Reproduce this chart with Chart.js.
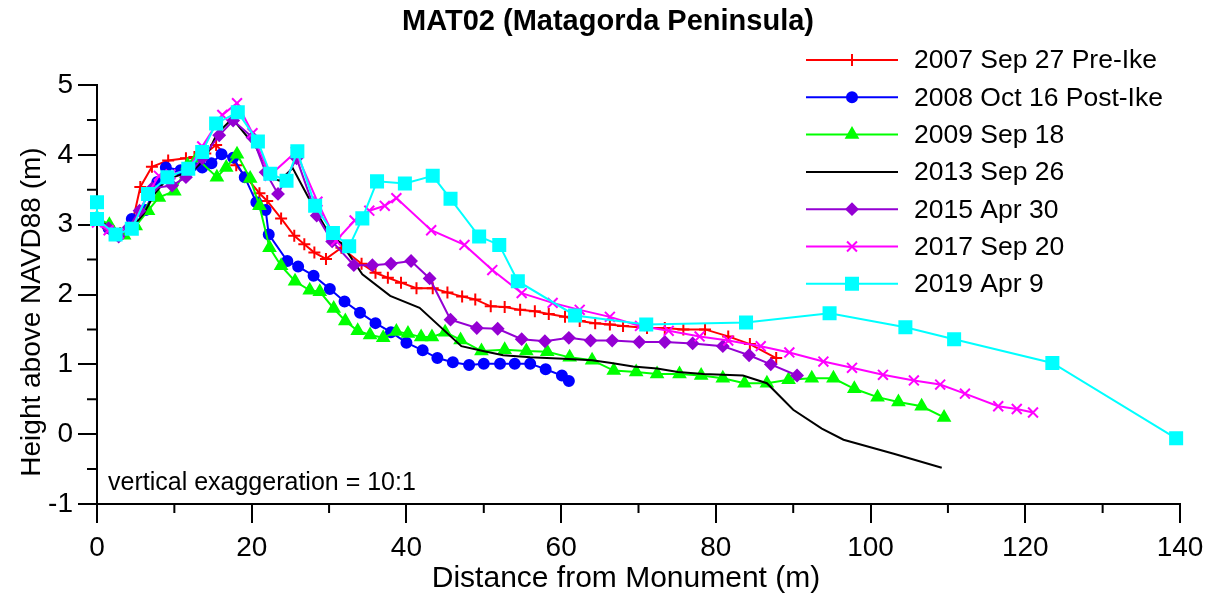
<!DOCTYPE html>
<html>
<head>
<meta charset="utf-8">
<title>MAT02 (Matagorda Peninsula)</title>
<script src="https://cdn.jsdelivr.net/npm/chart.js@4.4.1/dist/chart.umd.min.js"></script>
<style>
  html, body { margin: 0; padding: 0; background: #fff; }
  #wrap { width: 1215px; height: 598px; }
</style>
</head>
<body>
<div id="wrap"><canvas id="perfil" width="1215" height="598"></canvas></div>
<script>
// distancia (m) / altura (m) de cada levantamiento
const dist2007 = [0, 1.5, 3, 4.4, 5.6, 7.1, 9.2, 11.5, 12.6, 14, 15.4, 18, 21, 22, 23.8, 25.5, 26.8, 28.1, 29.6, 31.6, 34.2, 36, 37.6, 39.3, 41.3, 43.4, 45.3, 47.2, 48.9, 50.9, 52.7, 54.7, 56.6, 58.4, 60.5, 62.4, 64.4, 66.3, 68, 71.1, 73.4, 75.8, 78.6, 81.6, 84.4, 87.8];
const elev2007 = [3.07, 2.98, 2.88, 2.94, 3.54, 3.83, 3.92, 3.95, 3.97, 4.02, 4.14, 3.85, 3.45, 3.34, 3.09, 2.84, 2.72, 2.60, 2.51, 2.67, 2.44, 2.31, 2.24, 2.17, 2.09, 2.09, 2.03, 1.97, 1.93, 1.83, 1.82, 1.78, 1.76, 1.72, 1.68, 1.62, 1.59, 1.57, 1.55, 1.52, 1.52, 1.50, 1.50, 1.40, 1.29, 1.09];

const dist2008 = [0, 1.5, 3, 4.5, 6.3, 7.8, 8.9, 10.8, 12.3, 13.6, 14.8, 16.1, 17.6, 19.1, 20.6, 21.8, 22.2, 24.6, 26, 28, 30.1, 32, 34, 36, 38, 40, 42.1, 44, 46, 48.1, 50, 52.1, 54, 56, 58, 60.1, 61];
const elev2008 = [3.08, 2.95, 2.86, 3.08, 3.21, 3.61, 3.82, 3.78, 3.84, 3.82, 3.88, 4.01, 3.96, 3.68, 3.32, 3.21, 2.86, 2.48, 2.40, 2.27, 2.08, 1.90, 1.74, 1.59, 1.46, 1.31, 1.20, 1.09, 1.03, 0.99, 1.01, 1.01, 1.01, 1.01, 0.93, 0.84, 0.76];

const dist2009 = [0, 1.6, 3.5, 5, 6.6, 8, 10, 11.7, 12.9, 15.5, 16.7, 18.1, 19.8, 21, 22.3, 23.8, 25.6, 27.5, 28.8, 30.6, 32.1, 33.7, 35.3, 37, 38.7, 40.2, 41.9, 43.3, 45, 47, 49.7, 52.7, 55.5, 58.2, 61.1, 64, 66.8, 69.7, 72.4, 75.3, 78.1, 80.9, 83.7, 86.6, 89.4, 92.4, 95.2, 97.9, 100.9, 103.6, 106.6, 109.5];
const elev2009 = [3.10, 3.00, 2.85, 2.98, 3.20, 3.39, 3.48, 3.85, 3.95, 3.68, 3.82, 4.01, 3.66, 3.27, 2.67, 2.41, 2.19, 2.06, 2.04, 1.80, 1.62, 1.48, 1.42, 1.38, 1.47, 1.44, 1.39, 1.39, 1.46, 1.35, 1.19, 1.21, 1.19, 1.18, 1.10, 1.06, 0.91, 0.89, 0.86, 0.86, 0.84, 0.80, 0.73, 0.73, 0.78, 0.80, 0.80, 0.65, 0.53, 0.46, 0.40, 0.24];

const dist2013 = [0, 1.5, 3, 4.5, 6, 7.5, 9, 11, 12.5, 14, 15.5, 17.5, 20.6, 22.7, 23.6, 25.3, 27.9, 30, 31.6, 34.3, 37.9, 41.7, 47.1, 49.9, 52.5, 56, 60.3, 64, 66.5, 69.3, 72.4, 75.1, 78.4, 83.5, 86.6, 90, 93.7, 96.5, 103, 109.2];
const elev2013 = [3.08, 2.97, 2.90, 2.95, 3.15, 3.45, 3.65, 3.72, 3.78, 3.95, 4.30, 4.52, 4.10, 3.66, 3.63, 3.81, 3.27, 2.87, 2.73, 2.29, 1.98, 1.81, 1.26, 1.19, 1.13, 1.10, 1.08, 1.06, 1.02, 0.97, 0.94, 0.89, 0.86, 0.84, 0.73, 0.35, 0.08, -0.08, -0.28, -0.48];

const dist2015 = [0, 1.5, 2.8, 4.1, 5.5, 7.1, 9.7, 11.5, 13.6, 15.8, 17.6, 20.1, 21.8, 23.4, 25.8, 28.4, 30.4, 33.2, 35.6, 38, 40.6, 43, 45.7, 49.1, 51.8, 54.9, 57.9, 61, 63.8, 66.6, 70.1, 73.4, 77, 80.9, 84.3, 87.1, 90.5];
const elev2015 = [3.09, 2.95, 2.83, 2.96, 3.20, 3.52, 3.56, 3.68, 3.95, 4.28, 4.49, 4.25, 3.75, 3.44, 3.95, 3.13, 2.76, 2.42, 2.42, 2.44, 2.48, 2.23, 1.64, 1.52, 1.51, 1.36, 1.33, 1.38, 1.34, 1.34, 1.32, 1.32, 1.30, 1.26, 1.13, 1.00, 0.84];

const dist2017 = [0, 1.5, 2.8, 4.5, 6.5, 8, 9.5, 11.7, 13.6, 16.2, 18.1, 20.1, 22.3, 25.7, 28.5, 30.9, 33.3, 35.2, 37.2, 38.7, 43.2, 47.5, 51.1, 54.9, 58.9, 62.4, 66.3, 70.2, 73.9, 77.9, 81.6, 85.8, 89.5, 93.9, 97.6, 101.6, 105.6, 109, 112.2, 116.5, 118.9, 121];
const elev2017 = [3.03, 2.92, 2.87, 2.95, 3.42, 3.70, 3.72, 3.78, 4.12, 4.57, 4.74, 4.31, 3.70, 4.04, 3.33, 2.77, 3.06, 3.20, 3.27, 3.38, 2.92, 2.71, 2.35, 2.02, 1.88, 1.78, 1.68, 1.55, 1.48, 1.40, 1.34, 1.26, 1.17, 1.04, 0.95, 0.85, 0.77, 0.71, 0.58, 0.40, 0.36, 0.31];

const dist2019 = [0, 0, 2.4, 4.5, 6.6, 9.1, 11.8, 13.6, 15.4, 18.2, 20.8, 22.4, 24.5, 25.9, 28.2, 30.5, 32.6, 34.3, 36.2, 39.8, 43.4, 45.7, 49.4, 52, 54.4, 61.8, 71, 83.9, 94.7, 104.5, 110.8, 123.5, 139.5];
const elev2019 = [3.32, 3.08, 2.86, 2.94, 3.44, 3.68, 3.80, 4.04, 4.45, 4.61, 4.19, 3.73, 3.63, 4.05, 3.27, 2.88, 2.69, 3.09, 3.62, 3.59, 3.70, 3.37, 2.83, 2.71, 2.19, 1.70, 1.57, 1.60, 1.73, 1.53, 1.36, 1.02, -0.06];

const etiquetas = ['2007 Sep 27 Pre-Ike', '2008 Oct 16 Post-Ike', '2009 Sep 18', '2013 Sep 26', '2015 Apr 30', '2017 Sep 20', '2019 Apr 9'];
const ticksX = [0, 20, 40, 60, 80, 100, 120, 140];
const ticksY = [-1, 0, 1, 2, 3, 4, 5];

const FUENTE = '"Liberation Sans", Arial, Helvetica, sans-serif';

function juntar(xs, ys) {
  return xs.map((x, i) => ({ x: x, y: ys[i] }));
}

const estilos = [
  { color: '#FF0000', punto: 'cross', radio: 6 },
  { color: '#0000FF', punto: 'circle', radio: 5 },
  { color: '#00FF00', punto: 'triangle', radio: 6.5 },
  { color: '#000000', punto: false, radio: 0 },
  { color: '#9400D3', punto: 'rectRot', radio: 5.5 },
  { color: '#FF00FF', punto: 'crossRot', radio: 7 },
  { color: '#00FFFF', punto: 'rect', radio: 8.5 }
];

const series = [
  juntar(dist2007, elev2007),
  juntar(dist2008, elev2008),
  juntar(dist2009, elev2009),
  juntar(dist2013, elev2013),
  juntar(dist2015, elev2015),
  juntar(dist2017, elev2017),
  juntar(dist2019, elev2019)
];

const datasets = series.map((datos, i) => {
  const e = estilos[i];
  return {
    label: etiquetas[i],
    data: datos,
    showLine: true,
    clip: false,
    borderColor: e.color,
    backgroundColor: e.color,
    borderWidth: 2,
    pointStyle: e.punto,
    pointRadius: e.radio,
    pointBorderWidth: 2,
    pointBorderColor: e.color,
    pointBackgroundColor: e.color,
    tension: 0,
    order: 7 - i
  };
});

// marcas menores, textos y leyenda
const decorado = {
  id: 'decorado',
  afterDraw(chart) {
    const ctx = chart.ctx;
    const sx = chart.scales.x;
    const sy = chart.scales.y;
    const area = chart.chartArea;
    ctx.save();
    ctx.strokeStyle = '#000';
    ctx.lineWidth = 2;
    ctx.beginPath();
    for (let v = 10; v < 140; v += 20) {
      const px = sx.getPixelForValue(v);
      ctx.moveTo(px, area.bottom);
      ctx.lineTo(px, area.bottom + 9);
    }
    for (let v = -0.5; v < 5; v += 1) {
      const py = sy.getPixelForValue(v);
      ctx.moveTo(area.left, py);
      ctx.lineTo(area.left - 10, py);
    }
    ctx.stroke();

    ctx.fillStyle = '#000';
    ctx.textAlign = 'center';
    ctx.textBaseline = 'middle';
    ctx.font = 'bold 29px ' + FUENTE;
    ctx.fillText('MAT02 (Matagorda Peninsula)', 608, 22);

    ctx.font = '30px ' + FUENTE;
    ctx.fillText('Distance from Monument (m)', 626, 579);
    ctx.save();
    ctx.translate(32, 312);
    ctx.rotate(-Math.PI / 2);
    ctx.font = '28px ' + FUENTE;
    ctx.fillText('Height above NAVD88 (m)', 0, 0);
    ctx.restore();

    ctx.textAlign = 'left';
    ctx.font = '25px ' + FUENTE;
    ctx.fillText('vertical exaggeration = 10:1', 108, 483);

    // leyenda
    ctx.font = '26.5px ' + FUENTE;
    etiquetas.forEach((txt, i) => {
      const e = estilos[i];
      const y = 60 + i * 37.3;
      ctx.strokeStyle = e.color;
      ctx.lineWidth = 2;
      ctx.beginPath();
      ctx.moveTo(806, y);
      ctx.lineTo(898, y);
      ctx.stroke();
      if (e.punto) {
        ctx.fillStyle = e.color;
        ctx.strokeStyle = e.color;
        Chart.helpers.drawPoint(ctx, { pointStyle: e.punto, radius: e.radio, rotation: 0, borderWidth: 2 }, 852, y);
      }
      ctx.fillStyle = '#000';
      ctx.fillText(txt, 914, y + 1);
    });
    ctx.restore();
  }
};

new Chart(document.getElementById('perfil').getContext('2d'), {
  type: 'scatter',
  data: { datasets: datasets },
  options: {
    responsive: false,
    animation: false,
    devicePixelRatio: 1,
    layout: { padding: { left: 0, top: 85, right: 35, bottom: 0 } },
    plugins: {
      legend: { display: false },
      title: { display: false },
      tooltip: { enabled: false }
    },
    scales: {
      x: {
        type: 'linear',
        min: 0,
        max: 140,
        afterFit(scale) { scale.height = 94; },
        afterBuildTicks(scale) { scale.ticks = ticksX.map(v => ({ value: v })); },
        grid: { display: true, drawOnChartArea: false, drawTicks: true, tickLength: 19, color: '#000', lineWidth: 2 },
        border: { display: true, color: '#000', width: 2 },
        ticks: { color: '#000', padding: 8, font: { family: FUENTE, size: 28 }, maxRotation: 0 }
      },
      y: {
        type: 'linear',
        min: -1,
        max: 5,
        afterFit(scale) { scale.width = 97; },
        afterBuildTicks(scale) { scale.ticks = ticksY.map(v => ({ value: v })); },
        grid: { display: true, drawOnChartArea: false, drawTicks: true, tickLength: 19, color: '#000', lineWidth: 2 },
        border: { display: true, color: '#000', width: 2 },
        ticks: { color: '#000', padding: 5, font: { family: FUENTE, size: 28 } }
      }
    }
  },
  plugins: [decorado]
});
</script>
</body>
</html>
